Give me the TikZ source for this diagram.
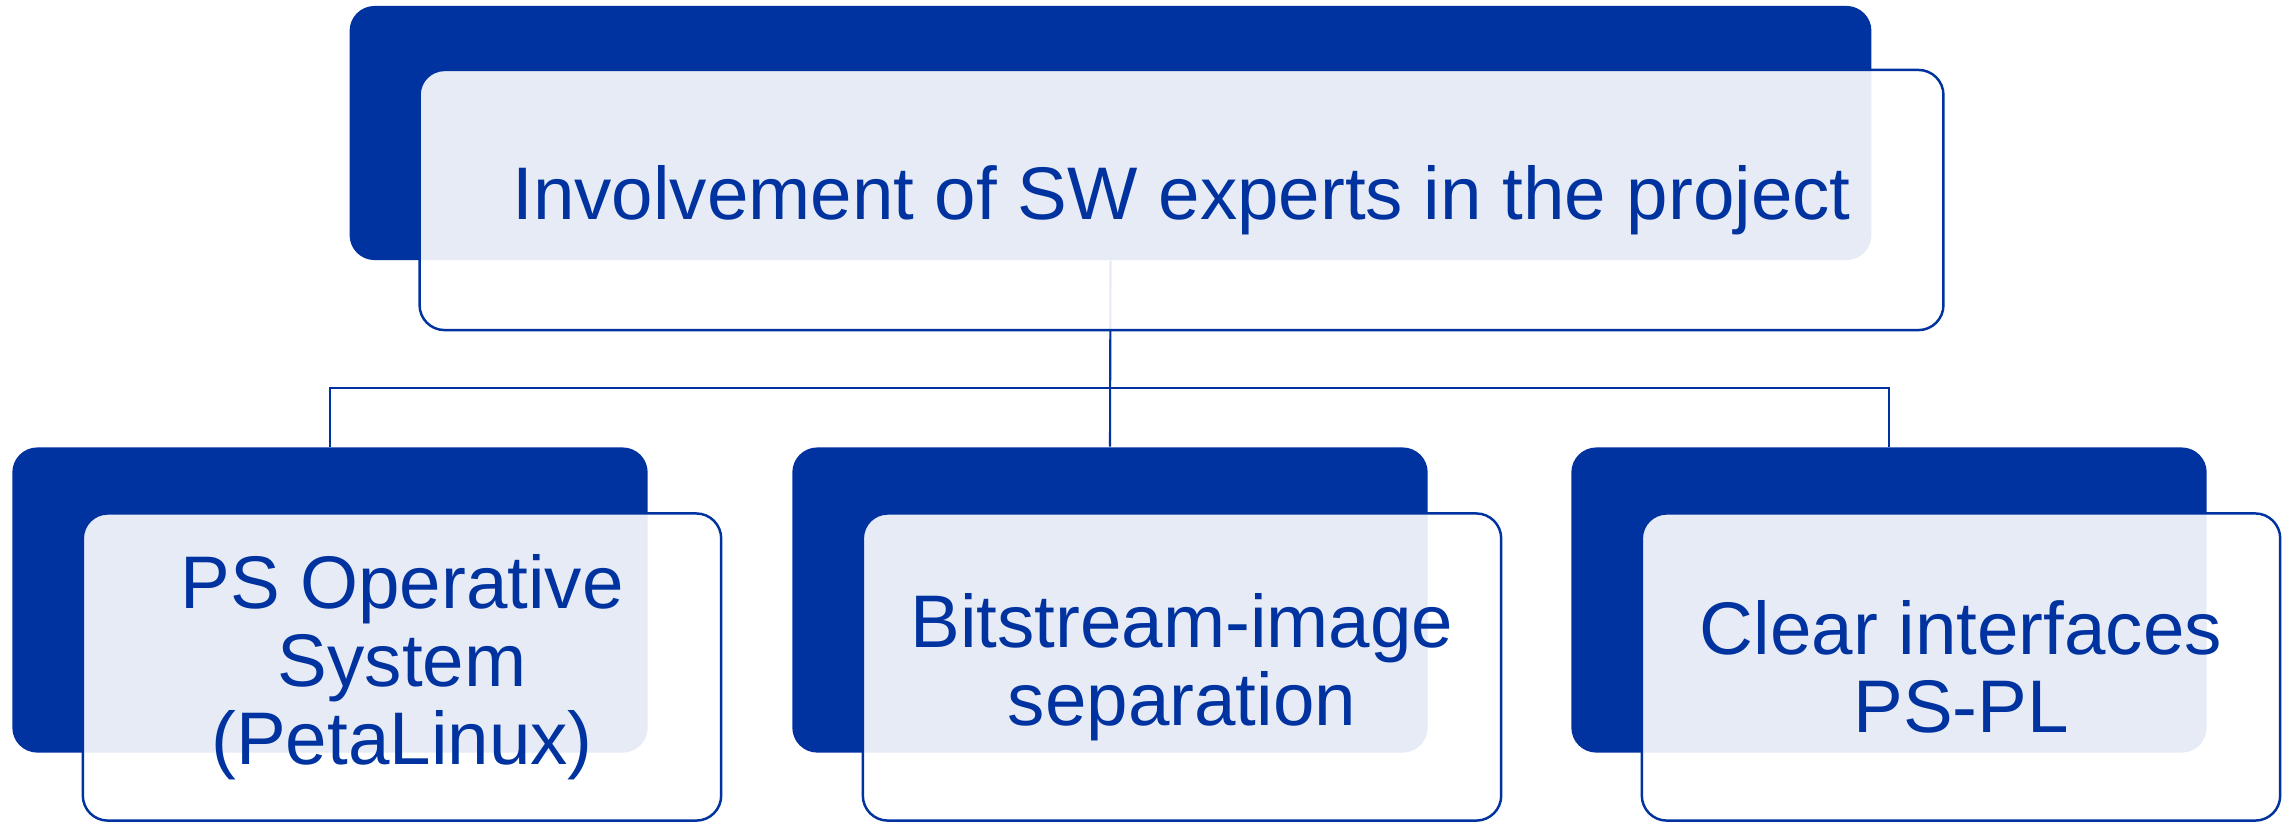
\documentclass[tikz,border=0pt]{standalone}
\usepackage{fontspec}
\setmainfont{Liberation Sans}
\usepackage{tikz}
\usetikzlibrary{backgrounds}
\definecolor{swblue}{HTML}{0033A0}

\begin{document}
\begin{tikzpicture}[x=0.01cm, y=-0.01cm,
  back/.style={fill=swblue, rounded corners=0.25cm, minimum width=6.35cm, minimum height=3.05cm, inner sep=0pt},
  front/.style={draw=swblue, line width=0.7pt, fill=white, fill opacity=0.9, text opacity=1, rounded corners=0.25cm, minimum width=6.38cm, minimum height=3.07cm, inner sep=0pt, align=center, text=swblue, font=\fontsize{21.2}{22.2}\selectfont},
  link/.style={draw=swblue, line width=0.6pt}]
\useasboundingbox (0,0) rectangle (2288,823);
\node[back, minimum width=15.21cm, minimum height=2.54cm] (root) at (1110.5,133) {};
\node[front, minimum width=15.23cm, minimum height=2.6cm] (roottxt) at (1181.5,200) {Involvement of SW experts in the project};
\node[back] (os) at (330,600) {};
\node[front] (ostxt) at (402,667) {PS Operative\\System\\(PetaLinux)};
\node[back] (bit) at (1110,600) {};
\node[front] (bittxt) at (1182,667) {Bitstream-image\\separation};
\node[back] (ifc) at (1889,600) {};
\node[front] (ifctxt) at (1961,667) {Clear interfaces\\PS-PL};
\coordinate (bar) at (1110,388);
\begin{scope}[on background layer]
\draw[link] (root.south) -- (bit.north);
\draw[link] (os.north) |- (bar) -| (ifc.north);
\end{scope}
\end{tikzpicture}
\end{document}
